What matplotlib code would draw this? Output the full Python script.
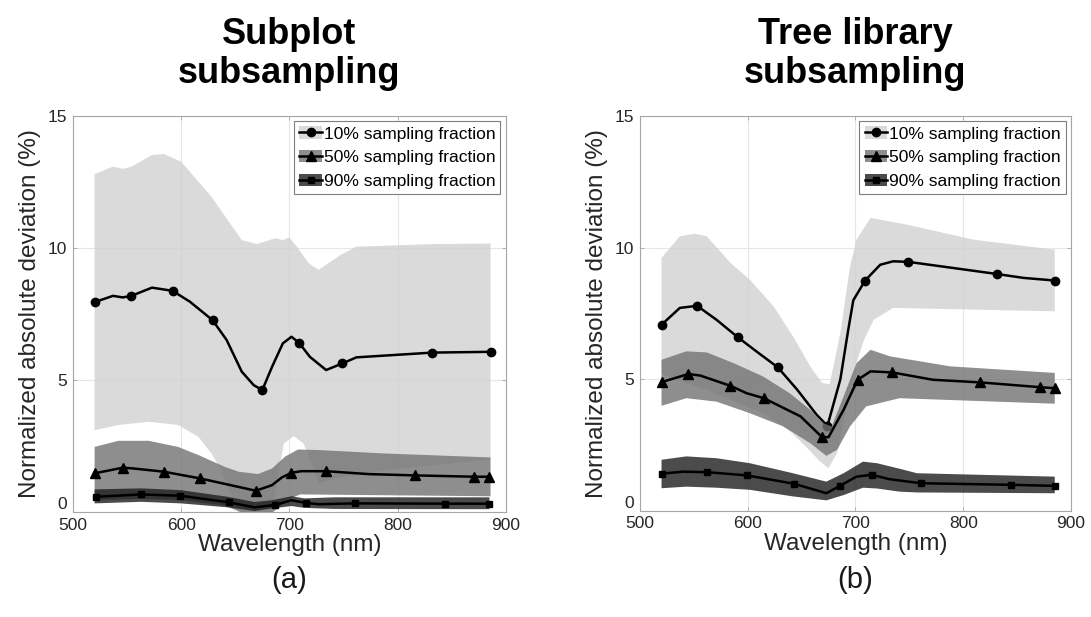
import matplotlib
matplotlib.use('Agg')
import matplotlib.pyplot as plt
from matplotlib.patches import Patch
from matplotlib.lines import Line2D

plt.rcParams['font.family'] = ['Liberation Sans', 'DejaVu Sans']

# ---- panel (a): subplot subsampling ----
wl_a10 = [520, 537, 546, 554, 573, 592, 608, 629, 642, 656, 667, 675, 684, 694,
          702, 709, 719, 734, 749, 762, 832, 886]
val_a10 = [7.95, 8.19, 8.13, 8.19, 8.5, 8.38, 7.97, 7.27, 6.52, 5.32, 4.81, 4.62,
           5.5, 6.39, 6.64, 6.41, 5.88, 5.38, 5.63, 5.86, 6.04, 6.07]
mk_a10 = [0, 3, 5, 7, 11, 15, 18, 20, 21]
up_a10_wl = [520, 537, 546, 554, 573, 584, 600, 628, 656, 670, 687, 694, 700, 707,
             718, 727, 747, 762, 832, 886]
up_a10 = [12.8, 13.08, 13.0, 13.08, 13.52, 13.56, 13.27, 11.94, 10.3, 10.15, 10.37,
          10.3, 10.4, 10.05, 9.42, 9.17, 9.73, 10.05, 10.15, 10.17]
lo_a10_wl = [520, 542, 570, 597, 616, 628, 637, 647, 653, 684, 690, 695, 704, 713,
             721, 727, 745, 790, 886]
lo_a10 = [3.1, 3.3, 3.42, 3.3, 2.85, 2.22, 1.59, 0.58, 0.0, 0.0, 1.46, 2.6, 2.88,
          2.6, 1.84, 1.1, 1.3, 1.6, 2.0]

wl_a50 = [520, 546, 554, 584, 617, 669, 684, 693, 702, 711, 734, 773, 816, 871, 885]
val_a50 = [1.47, 1.68, 1.66, 1.53, 1.28, 0.81, 1.02, 1.31, 1.49, 1.55, 1.55, 1.44,
           1.39, 1.34, 1.34]
mk_a50 = [0, 1, 3, 4, 5, 8, 10, 12, 13, 14]
up_a50_wl = [520, 542, 570, 597, 616, 640, 653, 671, 684, 696, 708, 727, 788, 886]
up_a50 = [2.47, 2.7, 2.7, 2.47, 2.16, 1.72, 1.53, 1.44, 1.65, 2.1, 2.37, 2.35, 2.22, 2.07]
lo_a50_wl = [520, 560, 600, 640, 655, 685, 700, 710, 886]
lo_a50 = [0.45, 0.5, 0.45, 0.25, 0.0, 0.0, 0.5, 0.67, 0.6]

wl_a90 = [521, 563, 599, 644, 668, 687, 702, 715, 727, 761, 844, 885]
val_a90 = [0.58, 0.67, 0.62, 0.37, 0.18, 0.27, 0.45, 0.35, 0.3, 0.33, 0.32, 0.32]
mk_a90 = [0, 1, 2, 3, 5, 7, 9, 10, 11]
band_a90_wl = [520, 563, 600, 643, 668, 684, 702, 714, 742, 885]
up_a90 = [0.86, 0.9, 0.83, 0.58, 0.38, 0.45, 0.6, 0.52, 0.56, 0.56]
lo_a90 = [0.33, 0.39, 0.33, 0.18, 0.04, 0.14, 0.23, 0.16, 0.12, 0.11]

# ---- panel (b): tree library subsampling ----
wl_b10 = [520, 537, 553, 571, 591, 608, 628, 646, 664, 674, 686, 693, 698, 709,
          723, 735, 749, 831, 856, 885]
val_b10 = [7.07, 7.71, 7.79, 7.26, 6.59, 6.06, 5.45, 4.6, 3.65, 3.23, 5.0, 6.8, 8.0,
           8.75, 9.35, 9.48, 9.46, 9.0, 8.85, 8.75]
mk_b10 = [0, 2, 4, 6, 9, 13, 16, 17, 19]
up_b10_wl = [520, 537, 551, 562, 584, 602, 624, 642, 658, 669, 676, 686, 695, 701,
             714, 748, 810, 885]
up_b10 = [9.61, 10.43, 10.53, 10.43, 9.42, 8.78, 7.77, 6.63, 5.49, 4.86, 4.8, 6.76,
          9.29, 10.3, 11.13, 10.87, 10.3, 9.92]
lo_b10_wl = [520, 562, 615, 640, 655, 667, 675, 683, 690, 700, 708, 717, 735, 885]
lo_b10 = [5.2, 4.6, 3.7, 3.0, 2.4, 1.88, 1.62, 2.2, 3.6, 5.5, 6.5, 7.26, 7.71, 7.58]

wl_b50 = [520, 545, 556, 584, 599, 615, 649, 669, 675, 689, 702, 714, 734, 772,
          816, 871, 885]
val_b50 = [4.89, 5.2, 5.14, 4.75, 4.47, 4.28, 3.59, 2.8, 2.8, 3.84, 4.98, 5.3, 5.26,
           4.98, 4.88, 4.7, 4.66]
mk_b50 = [0, 1, 3, 5, 7, 10, 12, 14, 15, 16]
up_b50_wl = [520, 543, 562, 587, 614, 639, 658, 670, 678, 689, 701, 714, 732, 788, 885]
up_b50 = [5.74, 6.06, 6.02, 5.61, 5.11, 4.47, 3.84, 3.33, 3.21, 4.35, 5.61, 6.12,
          5.87, 5.49, 5.24]
lo_b50_wl = [520, 543, 571, 602, 633, 658, 673, 683, 695, 710, 741, 885]
lo_b50 = [3.99, 4.28, 4.15, 3.71, 3.21, 2.57, 2.09, 2.32, 3.21, 3.97, 4.28, 4.07]

wl_b90 = [520, 540, 562, 599, 643, 673, 686, 701, 715, 732, 761, 844, 885]
val_b90 = [1.41, 1.49, 1.47, 1.35, 1.03, 0.67, 0.96, 1.3, 1.37, 1.2, 1.05, 0.99, 0.95]
mk_b90 = [0, 2, 3, 4, 6, 8, 10, 11, 12]
band_b90_wl = [520, 543, 571, 602, 642, 673, 689, 707, 720, 741, 757, 885]
up_b90 = [1.94, 2.07, 2.0, 1.81, 1.43, 1.11, 1.43, 1.87, 1.81, 1.6, 1.43, 1.3]
lo_b90 = [0.86, 0.92, 0.88, 0.8, 0.55, 0.4, 0.6, 0.88, 0.85, 0.73, 0.7, 0.67]

labels = ['10% sampling fraction', '50% sampling fraction', '90% sampling fraction']
c_light, c_mid, c_dark = '#d1d1d1', '#727272', '#1e1e1e'
band_alpha = 0.8


def band(ax, wl_up, up, wl_lo, lo, color, z):
    xs = list(wl_up) + list(wl_lo)[::-1]
    ys = list(up) + list(lo)[::-1]
    ax.fill(xs, ys, color=color, alpha=band_alpha, lw=0, zorder=z)


def line(ax, wl, val, marker, ms, mk, z):
    ax.plot(wl, val, color='k', lw=1.8, marker=marker, ms=ms, markevery=mk, zorder=z)


def style(ax, title, tag):
    ax.set_xlim(500, 900)
    ax.set_ylim(0, 15)
    ax.set_xticks([500, 600, 700, 800, 900])
    ax.set_yticks([0, 5, 10, 15])
    ax.grid(True, color='#e6e6e6', lw=0.8, zorder=0)
    ax.set_axisbelow(True)
    ax.tick_params(direction='in', length=3, width=0.6, colors='#a6a6a6',
                   labelcolor='#262626', labelsize=12.5, pad=4,
                   top=True, right=True)
    for s in ax.spines.values():
        s.set_color('#a6a6a6')
        s.set_linewidth(0.8)
    ax.set_xlabel('Wavelength (nm)', fontsize=17.5, color='#262626', labelpad=1)
    ax.set_ylabel('Normalized absolute deviation (%)', fontsize=17.5,
                  color='#262626', labelpad=5)
    ax.yaxis.get_ticklabels()[0].set_verticalalignment('bottom')
    ax.set_title(title, fontsize=26, fontweight='bold', pad=24, linespacing=1.15)
    handles = [(Patch(facecolor=c, alpha=band_alpha), Line2D([], [], color='k', lw=1.8, marker=m, ms=ms))
               for c, m, ms in [(c_light, 'o', 6), (c_mid, '^', 7), (c_dark, 's', 4.5)]]
    leg = ax.legend(handles, labels, loc='upper right', fontsize=12.5, handlelength=1.3,
                    handletextpad=0.1, labelspacing=0.5, borderpad=0.3,
                    borderaxespad=0.3, fancybox=False, framealpha=1)
    leg.get_frame().set_edgecolor('#7f7f7f')
    leg.get_frame().set_linewidth(0.8)
    leg.set_zorder(20)
    pos = ax.get_position()
    ax.figure.text((pos.x0 + pos.x1) / 2, 0.06, tag, fontsize=21, ha='center',
                   va='center', color='#1a1a1a')


fig = plt.figure(figsize=(10.91, 6.17), dpi=100)
ax1 = fig.add_axes([0.0669, 0.170, 0.3966, 0.642])
ax2 = fig.add_axes([0.5866, 0.172, 0.395, 0.640])

band(ax1, up_a10_wl, up_a10, lo_a10_wl, lo_a10, c_light, 2)
line(ax1, wl_a10, val_a10, 'o', 6, mk_a10, 3)
band(ax1, up_a50_wl, up_a50, lo_a50_wl, lo_a50, c_mid, 4)
line(ax1, wl_a50, val_a50, '^', 7, mk_a50, 5)
band(ax1, band_a90_wl, up_a90, band_a90_wl, lo_a90, c_dark, 6)
line(ax1, wl_a90, val_a90, 's', 4.5, mk_a90, 7)

band(ax2, up_b10_wl, up_b10, lo_b10_wl, lo_b10, c_light, 2)
line(ax2, wl_b10, val_b10, 'o', 6, mk_b10, 3)
band(ax2, up_b50_wl, up_b50, lo_b50_wl, lo_b50, c_mid, 4)
line(ax2, wl_b50, val_b50, '^', 7, mk_b50, 5)
band(ax2, band_b90_wl, up_b90, band_b90_wl, lo_b90, c_dark, 6)
line(ax2, wl_b90, val_b90, 's', 4.5, mk_b90, 7)

style(ax1, 'Subplot\nsubsampling', '(a)')
style(ax2, 'Tree library\nsubsampling', '(b)')

fig.savefig('out.png', dpi=100)
